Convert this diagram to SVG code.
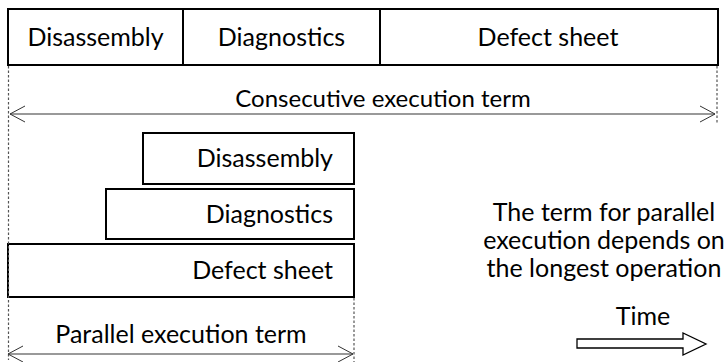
<svg xmlns="http://www.w3.org/2000/svg" width="728" height="362" viewBox="0 0 728 362">
<defs>
<style>
.box{fill:#fff;stroke:#000;stroke-width:2}
.t{font-family:Lato,"Open Sans",sans-serif;font-size:25px;fill:#000}
.c{text-anchor:middle}
.r{text-anchor:end}
.dash{stroke:#555;stroke-width:1.2;stroke-dasharray:2.5 2;fill:none}
.dim{stroke:#777;stroke-width:1.3;fill:none}
.head{stroke:#333;stroke-width:1;fill:none}
</style>
</defs>
<rect width="728" height="362" fill="#fff"/>
<g id="seq-disassembly"><rect class="box" x="8" y="9" width="175" height="56"/><text class="t c" x="95.5" y="46">Disassembly</text></g>
<g id="seq-diagnostics"><rect class="box" x="183" y="9" width="197" height="56"/><text class="t c" x="281.5" y="46">Diagnostics</text></g>
<g id="seq-defect"><rect class="box" x="380" y="9" width="338" height="56"/><text class="t c" x="548" y="46">Defect sheet</text></g>
<g id="par-disassembly"><rect class="box" x="143" y="133" width="211" height="51"/><text class="t r" x="333" y="167">Disassembly</text></g>
<g id="par-diagnostics"><rect class="box" x="106" y="189" width="248" height="50"/><text class="t r" x="333" y="223">Diagnostics</text></g>
<g id="par-defect"><rect class="box" x="8" y="244" width="346" height="53"/><text class="t r" x="333" y="279">Defect sheet</text></g>
<g id="connectors">
<line class="dash" x1="8.5" y1="66" x2="8.5" y2="360"/>
<line class="dash" x1="717" y1="66" x2="717" y2="123"/>
<line class="dash" x1="354" y1="298" x2="354" y2="362"/>
<line class="dim" x1="10" y1="114" x2="715" y2="114"/>
<polyline class="head" points="25,106 10,114 25,122"/>
<polyline class="head" points="700,106 715,114 700,122"/>
<line class="dim" x1="8" y1="354" x2="353" y2="354"/>
<polyline class="head" points="23,346 8,354 23,362"/>
<polyline class="head" points="338,346 353,354 338,362"/>
<polygon points="577,339 683,339 683,333 706,344 683,355 683,348 577,348" fill="#fff" stroke="#000" stroke-width="1.3"/>
</g>
<text class="t c" x="383" y="107" style="font-size:24px">Consecutive execution term</text>
<text class="t c" x="181" y="343">Parallel execution term</text>
<text class="t c" x="604" y="221">The term for parallel</text>
<text class="t c" x="604" y="249">execution depends on</text>
<text class="t c" x="604" y="277">the longest operation</text>
<text class="t c" x="643" y="325">Time</text>
</svg>
